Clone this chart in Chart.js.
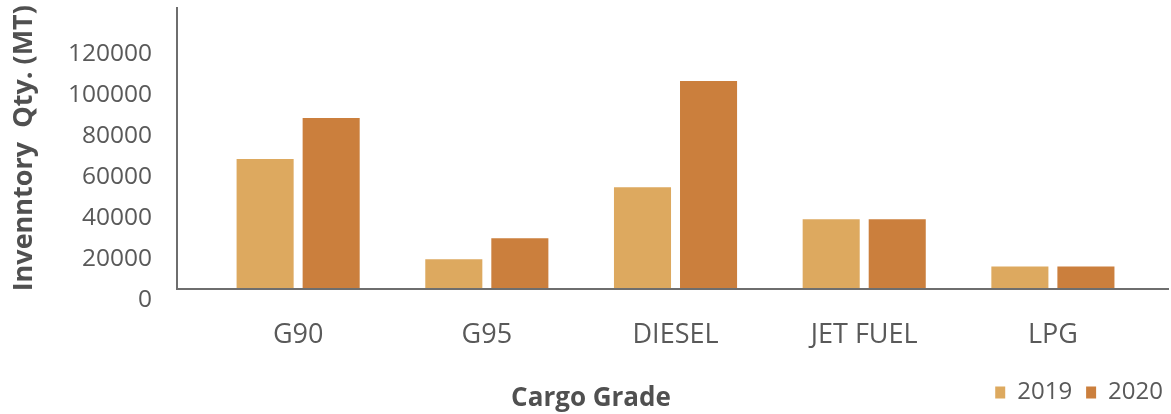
<!DOCTYPE html>
<html>
<head>
<meta charset="utf-8">
<script src="https://cdn.jsdelivr.net/npm/chart.js@4"></script>
<style>
  html, body { margin: 0; background: #fff; }
  #wrap { width: 1171px; height: 414px; }
</style>
</head>
<body>
<div id="wrap"><canvas id="myChart"></canvas></div>
<script>
// data
const categories = ['G90', 'G95', 'DIESEL', 'JET FUEL', 'LPG'];
const series2019 = [67800, 19100, 54100, 38500, 15500];
const series2020 = [87800, 29300, 105800, 38500, 15500];
const seriesNames = ['2019', '2020'];
const yTickValues = [0, 20000, 40000, 60000, 80000, 100000, 120000];

const textGrey = '#595959';
const axisGrey = '#6e6e6e';
const family = '"Open Sans", "Noto Sans", sans-serif';

// x title and legend share one row under the axis, so move them there after layout
const bottomRow = {
  id: 'bottomRow',
  afterLayout(chart) {
    const lg = chart.legend;
    if (lg) {
      lg.left = 0;
      lg.right = chart.width + 6;
      lg.top = 366.5;
      lg.bottom = lg.top + 46;
    }
    const tb = chart.titleBlock;
    if (tb) {
      tb.left = 391;
      tb.right = 791;
      tb.top = 383.4;
      tb.bottom = tb.top + 31.2;
    }
  }
};

window.onload = function() {
  var ctx = document.getElementById('myChart').getContext('2d');
  var toPoints = function(arr) { return arr.map(function(v, i) { return {x: i, y: v}; }); };

  new Chart(ctx, {
    type: 'bar',
    data: {
      datasets: [{
        label: seriesNames[0],
        data: toPoints(series2019),
        backgroundColor: '#DDA95F',
        borderWidth: 0,
        clip: 0
      }, {
        label: seriesNames[1],
        data: toPoints(series2020),
        backgroundColor: '#CB7F3D',
        borderWidth: 0,
        clip: 0
      }]
    },
    options: {
      responsive: true,
      maintainAspectRatio: false,
      animation: false,
      categoryPercentage: 0.70,
      barPercentage: 0.864,
      layout: { padding: { top: 8, right: 3, bottom: 0, left: 0 } },
      plugins: {
        tooltip: { enabled: false },
        legend: {
          position: 'bottom',
          align: 'end',
          maxHeight: 1,
          labels: {
            boxWidth: 10,
            boxHeight: 12,
            padding: 14,
            color: textGrey,
            font: { family: family, size: 24 }
          }
        },
        title: {
          display: true,
          text: 'Cargo Grade',
          position: 'bottom',
          color: '#505050',
          padding: 0,
          font: { family: family, size: 26, weight: 'bold' }
        }
      },
      scales: {
        x: {
          type: 'linear',
          min: -0.642,
          max: 4.61,
          offset: false,
          grid: { display: false, drawTicks: false },
          border: { display: true, color: axisGrey, width: 2, z: 1 },
          afterFit: function(scale) { scale.height = 93.3; },
          afterBuildTicks: function(scale) {
            scale.ticks = categories.map(function(c, i) { return {value: i}; });
          },
          ticks: {
            autoSkip: false,
            maxRotation: 0,
            padding: 31,
            color: textGrey,
            font: { family: family, size: 27 },
            callback: function(v) { return categories[v]; }
          }
        },
        y: {
          min: 4860,
          max: 141260,
          beginAtZero: false,
          grid: { display: false, drawTicks: true, tickLength: 22 },
          border: { display: true, color: axisGrey, width: 2, z: 1 },
          afterFit: function(scale) { scale.width = 177; },
          afterBuildTicks: function(scale) {
            scale.ticks = yTickValues.map(function(v) { return {value: v}; })
              .concat([{value: scale.max}]);
          },
          ticks: {
            autoSkip: false,
            padding: 3,
            labelOffset: 2,
            color: textGrey,
            font: { family: family, size: 24.5 },
            callback: function(v) { return v > 120000 ? [] : String(v); }
          },
          title: {
            display: true,
            text: 'Invenntory  Qty. (MT)',
            color: '#505050',
            padding: { top: 8, bottom: 0 },
            font: { family: family, size: 27, weight: 'bold' }
          }
        }
      }
    },
    plugins: [bottomRow]
  });
};
</script>
</body>
</html>
